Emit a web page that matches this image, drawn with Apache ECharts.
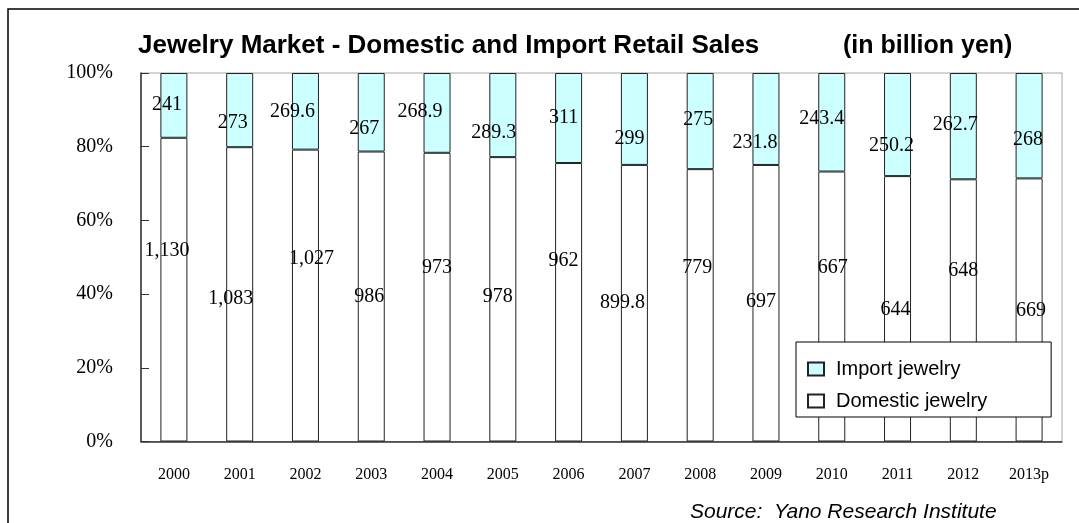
<!DOCTYPE html>
<html>
<head>
<meta charset="utf-8">
<script src="https://cdn.jsdelivr.net/npm/echarts@6/dist/echarts.min.js"></script>
<style>
html,body{margin:0;padding:0;background:#fff;}
#chart{width:1079px;height:523px;}
</style>
</head>
<body>
<div id="chart"></div>
<script>
const years = ['2000','2001','2002','2003','2004','2005','2006','2007','2008','2009','2010','2011','2012','2013p'];
const domestic = [1130, 1083, 1027, 986, 973, 978, 962, 899.8, 779, 697, 667, 644, 648, 669];
const imports = [241, 273, 269.6, 267, 268.9, 289.3, 311, 299, 275, 231.8, 243.4, 250.2, 262.7, 268];
const yTicks = [0, 20, 40, 60, 80, 100];

// label nudges [dx, dy] from the segment centre (style only)
const importLabelShift = [[-7,-1],[-7,13],[-13,0],[-7,16],[-17,-1],[-9,18],[-5,0],[-5,20],[-2,-1],[-11,24],[-10,-4],[-6,21],[-8,-1],[-1,14]];
const domesticLabelShift = [[-7,-39],[-9,4],[6,-37],[-2,0],[0,-29],[-5,-3],[-5,-42],[-12,0],[-3,-38],[-5,-1],[1,-39],[-2,1],[0,-40],[2,1]];

const fmt = v => v.toLocaleString('en-US');
const totals = domestic.map((d, i) => d + imports[i]);

const labelBase = {
  show: true, position: 'inside', color: '#000',
  fontFamily: 'Liberation Serif', fontSize: 20, textBorderWidth: 0
};

function buildData(vals, shifts) {
  return vals.map((v, i) => ({
    value: v / totals[i] * 100,
    label: Object.assign({}, labelBase, { offset: shifts[i], formatter: fmt(v) })
  }));
}

const chart = echarts.init(document.getElementById('chart'), null, { renderer: 'canvas' });
chart.setOption({
  animation: false,
  backgroundColor: '#fff',
  grid: { left: 141, top: 73, right: 17, bottom: 81.5, show: true, borderColor: '#a6a6a6', borderWidth: 1, backgroundColor: 'transparent' },
  graphic: [
    { type: 'rect', shape: { x: 8, y: 9, width: 1300, height: 1000 }, style: { fill: null, stroke: '#000', lineWidth: 1.5 }, silent: true, z: 100 },
    { type: 'text', x: 138, y: 46, style: { text: 'Jewelry Market - Domestic and Import Retail Sales', fontFamily: 'Liberation Sans', fontWeight: 'bold', fontSize: 26, fill: '#000', textAlign: 'left', textVerticalAlign: 'middle' } },
    { type: 'text', x: 843, y: 46, style: { text: '(in billion yen)', fontFamily: 'Liberation Sans', fontWeight: 'bold', fontSize: 25, fill: '#000', textAlign: 'left', textVerticalAlign: 'middle' } },
    { type: 'text', x: 690, y: 512, style: { text: 'Source:  Yano Research Institute', fontFamily: 'Liberation Sans', fontStyle: 'italic', fontSize: 21, fill: '#000', textAlign: 'left', textVerticalAlign: 'middle' } }
  ],
  legend: {
    orient: 'vertical', left: 796, top: 342,
    data: ['Import jewelry', 'Domestic jewelry'],
    icon: 'rect',
    itemWidth: 16, itemHeight: 13, itemGap: 12,
    padding: [17, 64, 6, 11],
    borderColor: '#000', borderWidth: 1, backgroundColor: '#fff',
    textStyle: { fontFamily: 'Liberation Sans', fontSize: 20, color: '#000', lineHeight: 20, padding: [0, 0, 0, 7] }
  },
  xAxis: {
    type: 'category', data: years,
    axisLine: { lineStyle: { color: '#333', width: 1.5 } },
    axisTick: { inside: true, length: 6, lineStyle: { color: '#333' } },
    axisLabel: { fontFamily: 'Liberation Serif', fontSize: 16, color: '#000', margin: 25 }
  },
  yAxis: {
    type: 'value', min: yTicks[0], max: yTicks[yTicks.length - 1], interval: yTicks[1] - yTicks[0],
    axisLine: { show: true, lineStyle: { color: '#333', width: 1.5 } },
    axisTick: { show: true, inside: true, length: 8, lineStyle: { color: '#333' } },
    splitLine: { show: false },
    axisLabel: { fontFamily: 'Liberation Serif', fontSize: 20, color: '#000', margin: 28, formatter: '{value}%' }
  },
  series: [
    {
      name: 'Domestic jewelry', type: 'bar', stack: 'total', barWidth: 27,
      itemStyle: { color: '#ffffff', borderColor: '#222', borderWidth: 1 },
      data: buildData(domestic, domesticLabelShift)
    },
    {
      name: 'Import jewelry', type: 'bar', stack: 'total', barWidth: 27,
      itemStyle: { color: '#ccffff', borderColor: '#222', borderWidth: 1 },
      data: buildData(imports, importLabelShift)
    }
  ]
});
</script>
</body>
</html>
